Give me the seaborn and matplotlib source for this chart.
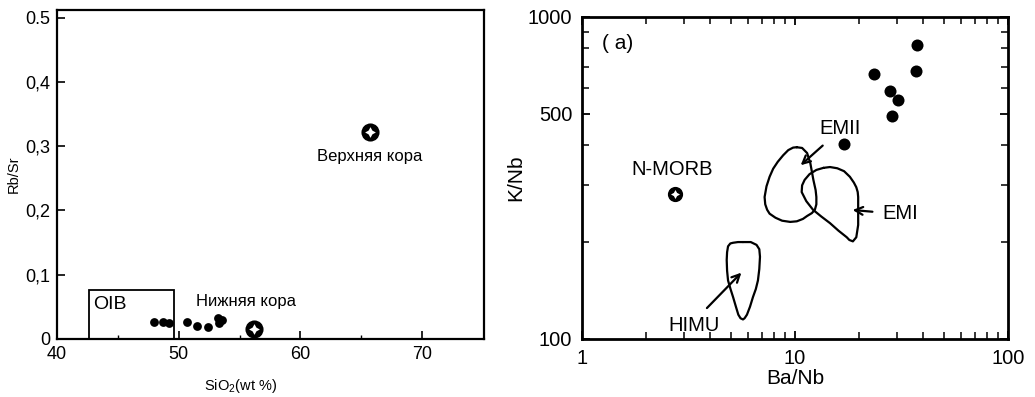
import numpy as np
import pandas as pd
import matplotlib
matplotlib.use("Agg")
import matplotlib.pyplot as plt
from matplotlib.ticker import FixedLocator, NullFormatter
import seaborn as sns

# ---- Rb/Sr vs SiO2 -------------------------------------------------------
sio2 = [48.0, 48.7, 49.2, 50.7, 51.5, 52.4, 53.2, 53.3, 53.6]
rb_sr = [0.027, 0.027, 0.025, 0.027, 0.020, 0.018, 0.032, 0.025, 0.029]

crust_names = ["Нижняя кора", "Верхняя кора"]
crust_sio2 = [56.2, 65.7]
crust_rb_sr = [0.015, 0.322]

oib_sio2 = [42.6, 49.6]
oib_rb_sr = [0.0, 0.076]

left_yticks = [0, 0.1, 0.2, 0.3, 0.4, 0.5]
left_yticklabels = ["0", "0,1", "0,2", "0,3", "0,4", "0.5"]
left_xticks = [40, 50, 60, 70]

# ---- K/Nb vs Ba/Nb -------------------------------------------------------
ba_nb = [37.3, 37.0, 23.5, 27.9, 30.3, 28.6, 17.0]
k_nb = [818, 680, 664, 589, 552, 493, 404]

nmorb_ba_nb = [2.73]
nmorb_k_nb = [283]

emii_ba_nb = [10.2, 10.8, 11.4, 11.8, 12.2, 12.5, 12.6, 12.6, 12.4, 12.0, 11.4, 10.9, 10.2,
              9.5, 8.7, 8.1, 7.6, 7.4, 7.25, 7.2, 7.35, 7.6, 7.9, 8.3, 8.8, 9.3, 9.8]
emii_k_nb = [394, 392, 378, 352, 312, 290, 276, 262, 252, 246, 241, 236, 232,
             231, 233, 238, 245, 252, 262, 276, 298, 319, 338, 355, 372, 386, 393]

emi_ba_nb = [13.6, 14.6, 15.8, 17.0, 18.1, 18.9, 19.4, 19.7, 19.8, 19.8, 19.8, 19.4, 18.7, 18.0,
             17.5, 16.0, 14.6, 13.3, 12.15, 11.3, 10.75, 10.8, 11.1, 11.7, 12.6]
emi_k_nb = [340, 342, 339, 332, 319, 306, 296, 286, 276, 255, 226, 207, 201, 203,
            207, 217, 229, 240, 252, 268, 286, 300, 312, 325, 335]

himu_ba_nb = [5.7, 6.2, 6.6, 6.8, 6.85, 6.8, 6.7, 6.55, 6.35, 6.15, 5.95, 5.8, 5.7, 5.55,
              5.42, 5.28, 5.12, 4.98, 4.85, 4.8, 4.78, 4.8, 4.85, 4.97, 5.12, 5.4]
himu_k_nb = [200, 200, 196, 190, 180, 165, 152, 143, 135, 126, 119, 116, 115, 116,
             119, 126, 135, 143, 152, 163, 176, 186, 194, 198, 199, 200]

right_yticks = [100, 500, 1000]
right_xticks = [1, 10, 100]

sns.set_style("white")
plt.rcParams["font.family"] = ["Liberation Sans", "DejaVu Sans"]
plt.rcParams["mathtext.fontset"] = "custom"
plt.rcParams["mathtext.rm"] = "Liberation Sans"
plt.rcParams["xtick.direction"] = "in"
plt.rcParams["ytick.direction"] = "in"
for key in ["text.color", "axes.labelcolor", "xtick.color", "ytick.color", "axes.edgecolor"]:
    plt.rcParams[key] = "black"

fig = plt.figure(figsize=(10.35, 3.97), dpi=100)
ax1 = fig.add_axes([0.0551, 0.1461, 0.4126, 0.8287])
ax2 = fig.add_axes([0.5623, 0.1461, 0.4116, 0.8111])


def crust_marker(ax, x, y, size):
    ax.scatter(x, y, s=size, color="black", zorder=4, linewidths=0)
    ax.scatter(x, y, s=size * 0.35, color="white", marker=(4, 1, 0), zorder=5, linewidths=0)


# left panel
samples = pd.DataFrame({"SiO2": sio2, "Rb/Sr": rb_sr})
sns.scatterplot(data=samples, x="SiO2", y="Rb/Sr", ax=ax1, color="black", s=40,
                edgecolor="black", linewidth=0, zorder=3)
crust_marker(ax1, crust_sio2, crust_rb_sr, 170)
ax1.add_patch(plt.Rectangle((oib_sio2[0], oib_rb_sr[0]), oib_sio2[1] - oib_sio2[0],
                            oib_rb_sr[1] - oib_rb_sr[0], fill=False, lw=1.3, ec="black"))
ax1.text(43.0, 0.053, "OIB", fontsize=14, va="center", ha="left")
ax1.text(crust_sio2[0] - 4.8, 0.058, crust_names[0], fontsize=12, va="center", ha="left")
ax1.text(crust_sio2[1], 0.284, crust_names[1], fontsize=12, va="center", ha="center")

ax1.set_xlim(40, 75.1)
ax1.set_ylim(0, 0.512)
ax1.set_xticks(left_xticks)
ax1.xaxis.set_minor_locator(FixedLocator([45, 55, 65]))
ax1.set_yticks(left_yticks)
ax1.set_yticklabels(left_yticklabels)
ax1.tick_params(axis="both", which="major", labelsize=13, length=6, width=1.2,
                bottom=True, left=True, top=False, right=False, pad=5)
ax1.tick_params(axis="x", which="minor", length=3, width=1.0, bottom=True)
ax1.set_xlabel("SiO$_2$(wt %)", fontsize=10.5)
ax1.set_ylabel("Rb/Sr", fontsize=10.5)
ax1.xaxis.set_label_coords(0.43, -0.115)
ax1.yaxis.set_label_coords(-0.085, 0.5)
for sp in ax1.spines.values():
    sp.set_linewidth(1.6)

# right panel
plume = pd.DataFrame({"Ba/Nb": ba_nb, "K/Nb": k_nb})
sns.scatterplot(data=plume, x="Ba/Nb", y="K/Nb", ax=ax2, color="black", s=75,
                edgecolor="black", linewidth=0, zorder=3)
crust_marker(ax2, nmorb_ba_nb, nmorb_k_nb, 120)

for xs, ys in [(emii_ba_nb, emii_k_nb), (emi_ba_nb, emi_k_nb), (himu_ba_nb, himu_k_nb)]:
    ax2.plot(xs + xs[:1], ys + ys[:1], color="black", lw=1.6, solid_joinstyle="round")

arrow_kw = dict(arrowstyle="->", color="black", lw=1.6, mutation_scale=14)
ax2.annotate("", xy=(10.4, 342), xytext=(13.8, 404), arrowprops=arrow_kw)
ax2.annotate("", xy=(18.1, 252), xytext=(23.8, 248), arrowprops=arrow_kw)
ax2.annotate("", xy=(5.72, 163), xytext=(3.78, 123), arrowprops=arrow_kw)

ax2.text(1.24, 830, "( a)", fontsize=15, ha="left", va="center")
ax2.text(2.66, 335, "N-MORB", fontsize=14.5, ha="center", va="center")
ax2.text(16.3, 452, "EMII", fontsize=14.5, ha="center", va="center")
ax2.text(25.6, 245, "EMI", fontsize=14.5, ha="left", va="center")
ax2.text(3.37, 110, "HIMU", fontsize=14.5, ha="center", va="center")

ax2.set_xscale("log")
ax2.set_yscale("log")
ax2.set_xlim(1, 100)
ax2.set_ylim(100, 1000)
ax2.set_xticks(right_xticks)
ax2.set_xticklabels([str(v) for v in right_xticks])
ax2.set_yticks(right_yticks)
ax2.set_yticklabels([str(v) for v in right_yticks])
ax2.xaxis.set_minor_locator(FixedLocator([m * d for d in (1, 10) for m in range(2, 10)]))
ax2.yaxis.set_minor_locator(FixedLocator([m * 100 for m in range(2, 10) if m != 5]))
ax2.xaxis.set_minor_formatter(NullFormatter())
ax2.yaxis.set_minor_formatter(NullFormatter())
ax2.tick_params(axis="both", which="both", top=True, right=True, bottom=True, left=True)
ax2.tick_params(axis="both", which="major", labelsize=14.5, length=6, width=1.3, pad=7)
ax2.tick_params(axis="both", which="minor", length=5, width=1.1)
ax2.set_xlabel("Ba/Nb", fontsize=15, labelpad=1)
ax2.set_ylabel("K/Nb", fontsize=15, labelpad=2)
for sp in ax2.spines.values():
    sp.set_linewidth(2.0)

fig.savefig("out.png", dpi=100, facecolor="white")
